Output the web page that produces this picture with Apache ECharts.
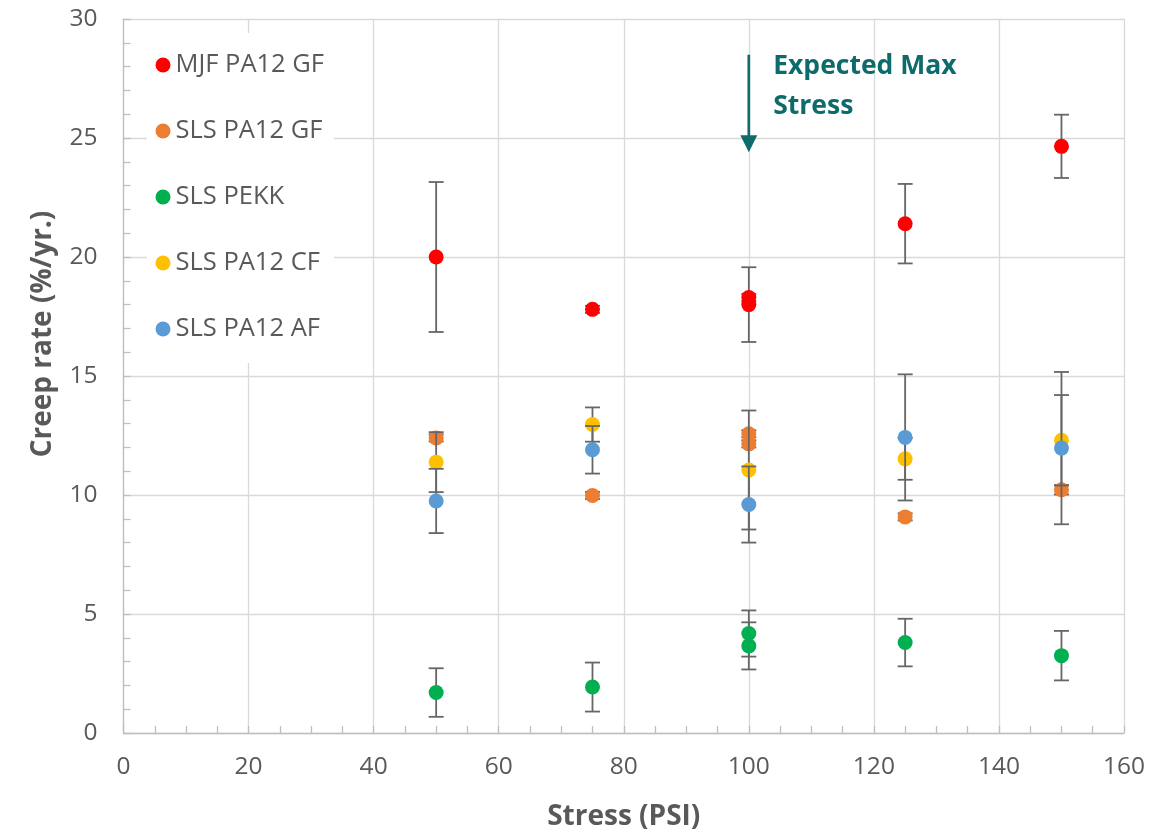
<!DOCTYPE html>
<html><head><meta charset="utf-8">
<script src="https://cdn.jsdelivr.net/npm/echarts@6/dist/echarts.min.js"></script>
<style>html,body{margin:0;padding:0;background:#fff}#c{width:1169px;height:836px}</style>
</head><body><div id="c"></div>
<script>
// ---- data ----
const seriesNames = ['MJF PA12 GF', 'SLS PA12 GF', 'SLS PEKK', 'SLS PA12 CF', 'SLS PA12 AF'];
const seriesColors = ['#FF0000', '#ED7D31', '#00B050', '#FFC000', '#5B9BD5'];

const mjfX = [50, 75, 100, 100, 125, 150];
const mjfY = [20.0, 17.8, 18.3, 18.0, 21.4, 24.65];
const mjfErr = [3.15, 0.15, 0.15, 1.57, 1.67, 1.33];

const gfX = [50, 75, 100, 100, 125, 150];
const gfY = [12.4, 9.98, 12.57, 12.15, 9.08, 10.22];
const gfErr = [0.15, 0.15, 0.15, 0.15, 0.15, 0.2];

const pekkX = [50, 75, 100, 100, 125, 150];
const pekkY = [1.7, 1.93, 4.18, 3.66, 3.8, 3.25];
const pekkErr = [1.02, 1.03, 0.97, 0.99, 1.0, 1.04];

const cfX = [50, 75, 100, 125, 150];
const cfY = [11.38, 12.96, 11.05, 11.52, 12.3];
const cfErr = [1.26, 0.72, 2.5, 0.88, 1.9];

const afX = [50, 75, 100, 125, 150];
const afY = [9.75, 11.9, 9.6, 12.42, 11.97];
const afErr = [1.35, 1.0, 1.6, 2.65, 3.2];

const xMin = 0, xMax = 160, xStep = 20;
const yMin = 0, yMax = 30, yStep = 5;
const xTitle = 'Stress (PSI)';
const yTitle = 'Creep rate (%/yr.)';
const annotationText = 'Expected Max\nStress';
const annotationX = 100, arrowTopY = 28.5, arrowTipY = 24.4;
const annotationTextX = 103.9, annotationTextY = 28.85;

const groupsX = [mjfX, gfX, pekkX, cfX, afX];
const groupsY = [mjfY, gfY, pekkY, cfY, afY];
const groupsErr = [mjfErr, gfErr, pekkErr, cfErr, afErr];

// ---- chart ----
const FONT = '"Open Sans", "Liberation Sans", sans-serif';
const chart = echarts.init(document.getElementById('c'), null, {renderer: 'canvas'});

function renderErr(params, api) {
  const x = api.value(0), y = api.value(1), e = api.value(2);
  const top = api.coord([x, y + e]);
  const bot = api.coord([x, y - e]);
  const w = 7.5;
  const style = {stroke: '#666666', lineWidth: 1.8, fill: null};
  return {
    type: 'group',
    children: [
      {type: 'line', shape: {x1: top[0], y1: top[1], x2: bot[0], y2: bot[1]}, style: style},
      {type: 'line', shape: {x1: top[0] - w, y1: top[1], x2: top[0] + w, y2: top[1]}, style: style},
      {type: 'line', shape: {x1: bot[0] - w, y1: bot[1], x2: bot[0] + w, y2: bot[1]}, style: style}
    ]
  };
}

const series = [];
seriesNames.forEach(function (name, i) {
  const xs = groupsX[i], ys = groupsY[i], es = groupsErr[i];
  series.push({
    name: 'err-' + i,
    type: 'custom',
    renderItem: renderErr,
    dimensions: ['x', 'y', 'e'],
    encode: {x: 0, y: 1},
    data: xs.map(function (x, k) { return [x, ys[k], es[k]]; }),
    z: 2 + i * 2,
    silent: true
  });
  series.push({
    name: name,
    type: 'scatter',
    symbol: 'circle',
    symbolSize: 15,
    itemStyle: {color: seriesColors[i], opacity: 1},
    data: xs.map(function (x, k) { return [x, ys[k]]; }),
    z: 3 + i * 2
  });
});

const axisGray = '#bfbfbf';
const gridGray = '#d9d9d9';
const labelGray = '#595959';

chart.setOption({
  animation: false,
  backgroundColor: '#ffffff',
  textStyle: {fontFamily: FONT},
  grid: {left: 123.5, right: 45, top: 19, bottom: 101, containLabel: false},
  legend: {
    data: seriesNames,
    orient: 'vertical',
    left: 147,
    top: 33,
    backgroundColor: '#ffffff',
    padding: [19, 10, 21, 8.5],
    itemWidth: 15,
    itemHeight: 15,
    itemGap: 40,
    itemTextGap: 15,
    icon: 'circle',
    textStyle: {fontSize: 25.5, color: labelGray, lineHeight: 26, fontFamily: FONT},
    z: 10
  },
  xAxis: {
    type: 'value',
    min: xMin, max: xMax, interval: xStep,
    name: xTitle,
    nameLocation: 'middle',
    nameGap: 70,
    nameTextStyle: {fontSize: 28, fontWeight: 'bold', color: labelGray, fontFamily: FONT},
    axisLine: {show: true, lineStyle: {color: axisGray, width: 1.3}},
    axisTick: {show: true, inside: true, length: 7, lineStyle: {color: axisGray, width: 1.3}},
    minorTick: {show: true, splitNumber: 4, length: 7, lineStyle: {color: axisGray, width: 1.3}},
    splitLine: {show: true, lineStyle: {color: gridGray, width: 1.3}},
    axisLabel: {fontSize: 24.5, color: labelGray, margin: 22, fontFamily: FONT}
  },
  yAxis: {
    type: 'value',
    min: yMin, max: yMax, interval: yStep,
    name: yTitle,
    nameLocation: 'middle',
    nameGap: 66,
    nameTextStyle: {fontSize: 28, fontWeight: 'bold', color: labelGray, fontFamily: FONT, padding: [0, 0, 0, 84]},
    axisLine: {show: true, lineStyle: {color: axisGray, width: 1.3}},
    axisTick: {show: true, inside: true, length: 7, lineStyle: {color: axisGray, width: 1.3}},
    minorTick: {show: true, splitNumber: 5, length: 7, lineStyle: {color: axisGray, width: 1.3}},
    splitLine: {show: true, lineStyle: {color: gridGray, width: 1.3}},
    axisLabel: {fontSize: 24.5, color: labelGray, margin: 26, fontFamily: FONT}
  },
  series: series
});

// annotation placed through the grid's own scales
const pTop = chart.convertToPixel({gridIndex: 0}, [annotationX, arrowTopY]);
const pTip = chart.convertToPixel({gridIndex: 0}, [annotationX, arrowTipY]);
const pText = chart.convertToPixel({gridIndex: 0}, [annotationTextX, annotationTextY]);
const teal = '#0E6B6B';
const headH = 17, headW = 17;
chart.setOption({
  graphic: [
    {type: 'line', z: 20, shape: {x1: pTop[0], y1: pTop[1], x2: pTip[0], y2: pTip[1] - headH + 2},
     style: {stroke: teal, lineWidth: 2.7}},
    {type: 'polygon', z: 20, shape: {points: [[pTip[0] - headW / 2, pTip[1] - headH], [pTip[0] + headW / 2, pTip[1] - headH], [pTip[0], pTip[1]]]},
     style: {fill: teal}},
    {type: 'text', z: 20, x: pText[0], y: pText[1],
     style: {text: annotationText, fill: teal, font: 'bold 26.5px ' + FONT, lineHeight: 40, verticalAlign: 'top', align: 'left'}}
  ]
});
</script>
</body></html>
